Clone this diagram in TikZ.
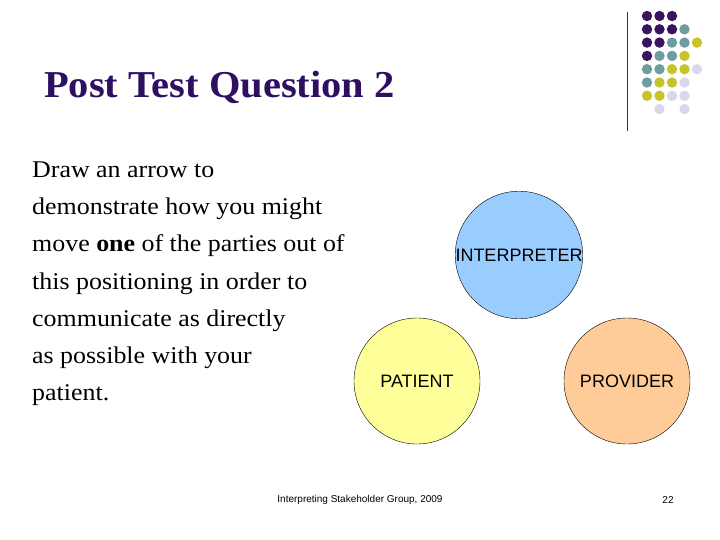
\documentclass[tikz,border=0pt]{standalone}
\usepackage{fontspec}
\setmainfont[FakeStretch=1.08]{Liberation Serif}
\setsansfont{Liberation Sans}
\newfontfamily\titulofont[FakeStretch=1.065]{Liberation Serif}
\definecolor{morado}{HTML}{3A1460}
\definecolor{titulo}{HTML}{2E0F62}
\definecolor{verdoso}{HTML}{6E9DA0}
\definecolor{amarillo}{HTML}{C8C32A}
\definecolor{lila}{HTML}{D8D8EA}
\definecolor{azul}{HTML}{99CCFF}
\definecolor{crema}{HTML}{FFFF99}
\definecolor{naranja}{HTML}{FFCC99}

\tikzset{
  circulo/.style={circle, draw=black, thin, minimum size=126pt, inner sep=0pt,
    font=\sffamily\fontsize{18}{18}\selectfont},
  cuerpo/.style={anchor=base west, inner sep=0pt, font=\fontsize{24}{28}\selectfont},
  pie/.style={inner sep=0pt, font=\sffamily\fontsize{10}{12}\selectfont}
}

\begin{document}
\begin{tikzpicture}[x=1pt,y=-1pt]
%fondo blanco del tamano de la diapositiva
\fill[white] (0,0) rectangle (720,540);
\useasboundingbox (0,0) rectangle (720,540);

%linea vertical junto a los puntos
\draw [thin,color=black!80] (627,12) -- (627,131);

%cuadricula de puntos de colores
\foreach \c/\f/\col in {0/0/morado,1/0/morado,2/0/morado,
    0/1/morado,1/1/morado,2/1/morado,3/1/verdoso,
    0/2/morado,1/2/morado,2/2/verdoso,3/2/verdoso,4/2/amarillo,
    0/3/morado,1/3/verdoso,2/3/verdoso,3/3/amarillo,
    0/4/verdoso,1/4/verdoso,2/4/amarillo,3/4/amarillo,4/4/lila,
    0/5/verdoso,1/5/amarillo,2/5/amarillo,3/5/lila,
    0/6/amarillo,1/6/amarillo,2/6/lila,3/6/lila,
    1/7/lila,3/7/lila}
	\fill [\col] ({647+12.5*\c},{16+13.3*\f}) circle (5.2pt);

%titulo
\node [anchor=base west,inner sep=0pt,text=titulo,font=\titulofont\bfseries\fontsize{38}{40}\selectfont] (titulo) at (44,98) {Post Test Question 2};

%texto de la pregunta, una linea por nodo
\foreach \linea [count=\i from 0] in {Draw an arrow to, demonstrate how you might,
    {move \textbf{one} of the parties out of}, this positioning in order to,
    communicate as directly, as possible with your, patient.}
	\node [cuerpo] (linea\i) at (32,{177.5+37.2*\i}) {\linea};

%los tres circulos
\node [circulo,fill=azul] (interprete) at (519,255) {INTERPRETER};
\node [circulo,fill=crema] (paciente) at (417,381) {PATIENT};
\node [circulo,fill=naranja] (proveedor) at (627,381) {PROVIDER};

%pie de pagina
\node [pie] (pie) at (360,500) {Interpreting Stakeholder Group, 2009};
\node [pie] (pagina) at (668,500) {22};
\end{tikzpicture}
\end{document}
